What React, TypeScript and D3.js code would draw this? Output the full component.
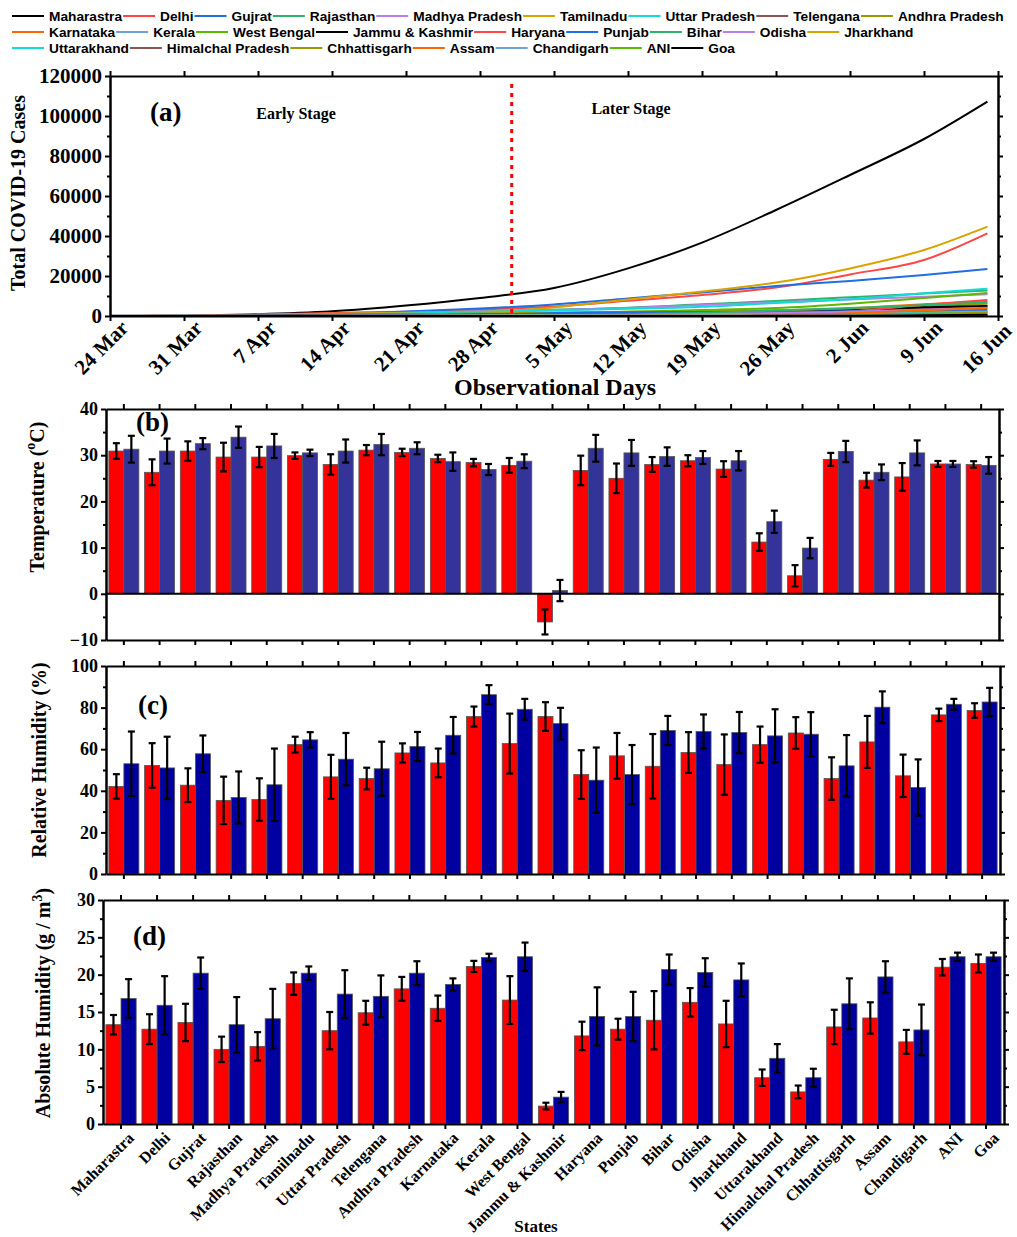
import React, { useEffect, useRef } from "react";
import * as d3 from "d3";

// states, in legend order and in bar order
const states = [
  "Maharastra", "Delhi", "Gujrat", "Rajasthan", "Madhya Pradesh", "Tamilnadu",
  "Uttar Pradesh", "Telengana", "Andhra Pradesh", "Karnataka", "Kerala",
  "West Bengal", "Jammu & Kashmir", "Haryana", "Punjab", "Bihar", "Odisha",
  "Jharkhand", "Uttarakhand", "Himalchal Pradesh", "Chhattisgarh", "Assam",
  "Chandigarh", "ANI", "Goa",
];
const lineColors = [
  "#000000", "#ff4545", "#1f6fe0", "#2db36b", "#b97fe8", "#d9a200",
  "#14d9d9", "#8c5555", "#9a9a00", "#ff6600", "#6fa3d9", "#5cb800",
  "#000000", "#ff4545", "#1f6fe0", "#2db36b", "#b97fe8", "#d9a200",
  "#14d9d9", "#8c5555", "#9a9a00", "#ff6600", "#6fa3d9", "#5cb800", "#000000",
];

// (a) cumulative cases, one value a week (days since 24 Mar)
const caseDays = [0, 7, 14, 21, 28, 35, 42, 49, 56, 63, 70, 77, 83];
const dateTicks = [0, 7, 14, 21, 28, 35, 42, 49, 56, 63, 70, 77, 84];
const dateLabels = ["24 Mar", "31 Mar", "7 Apr", "14 Apr", "21 Apr", "28 Apr", "5 May", "12 May", "19 May", "26 May", "2 Jun", "9 Jun", "16 Jun"];
const casesMaharastra = [107, 302, 868, 2334, 5218, 9000, 14000, 23800, 36700, 53000, 70500, 88500, 107200];
const casesDelhi = [30, 120, 576, 1561, 2156, 3314, 4700, 7600, 10500, 14200, 20800, 28000, 41300];
const casesGujrat = [30, 70, 165, 650, 2300, 3700, 5800, 8800, 11800, 15000, 17500, 20500, 23500];
const casesRajasthan = [32, 93, 328, 879, 1576, 2364, 3158, 4126, 5845, 7536, 9373, 11245, 12694];
const casesMadhya = [7, 66, 268, 730, 1552, 2368, 3049, 3986, 5465, 6859, 8283, 9638, 10935];
const casesTamilnadu = [15, 124, 690, 1173, 1596, 2058, 4300, 8300, 12200, 16700, 23800, 33000, 44700];
const casesUttar = [33, 103, 326, 657, 1294, 2053, 2880, 3573, 4605, 6548, 8361, 11335, 13615];
const casesTelengana = [36, 77, 404, 624, 928, 1004, 1096, 1326, 1634, 1920, 2891, 3742, 4974];
const casesAndhra = [8, 40, 304, 483, 757, 1259, 1717, 2090, 2532, 2886, 3571, 4708, 6163];
const casesKarnataka = [41, 101, 175, 258, 415, 523, 671, 925, 1397, 2283, 3796, 5921, 7213];
const casesKerala = [105, 241, 336, 379, 407, 485, 500, 524, 642, 1004, 1412, 2005, 2622];
const casesWestBengal = [9, 37, 91, 213, 423, 725, 1259, 2063, 2961, 4009, 6168, 8985, 11494];
const casesJammu = [4, 55, 116, 278, 380, 565, 726, 934, 1317, 1759, 2718, 4346, 5041];
const casesHaryana = [28, 43, 147, 199, 254, 296, 517, 780, 964, 1213, 2356, 5579, 8000];
const casesPunjab = [29, 41, 79, 176, 245, 375, 1451, 1914, 2002, 2106, 2342, 2719, 3267];
const casesBihar = [3, 15, 32, 66, 126, 366, 528, 831, 1498, 2737, 3945, 5459, 6810];
const casesOdisha = [2, 3, 42, 54, 82, 125, 169, 437, 876, 1438, 2104, 3140, 4163];
const casesJharkhand = [0, 1, 4, 24, 46, 103, 115, 172, 223, 426, 659, 1290, 1839];
const casesUttarakhand = [5, 7, 31, 37, 46, 54, 60, 68, 111, 401, 999, 1411, 1819];
const casesHimalchal = [3, 3, 13, 32, 39, 40, 42, 66, 110, 214, 340, 445, 553];
const casesChhattisgarh = [1, 9, 10, 33, 36, 38, 58, 59, 101, 291, 552, 1160, 1662];
const casesAssam = [0, 1, 27, 32, 35, 38, 43, 65, 107, 549, 1390, 2937, 4049];
const casesChandigarh = [7, 15, 18, 21, 26, 56, 102, 174, 200, 266, 294, 317, 345];
const casesANI = [1, 10, 11, 11, 15, 33, 33, 33, 33, 33, 33, 33, 41];
const casesGoa = [3, 5, 7, 7, 7, 7, 7, 7, 50, 67, 79, 359, 564];
const caseSeries = [
  casesMaharastra, casesDelhi, casesGujrat, casesRajasthan, casesMadhya, casesTamilnadu,
  casesUttar, casesTelengana, casesAndhra, casesKarnataka, casesKerala, casesWestBengal,
  casesJammu, casesHaryana, casesPunjab, casesBihar, casesOdisha, casesJharkhand,
  casesUttarakhand, casesHimalchal, casesChhattisgarh, casesAssam, casesChandigarh, casesANI, casesGoa,
];
const stageSplitDay = 38;

// (b) temperature, early (red) and later (blue) stage, mean and sd
const tempEarly = [30.9, 26.3, 30.9, 29.6, 29.6, 29.9, 28.0, 31.1, 30.6, 29.3, 28.4, 27.8, -6.1, 26.7, 25.0, 28.0, 28.8, 27.0, 11.2, 3.9, 29.1, 24.6, 25.3, 28.1, 28.0];
const tempEarlyErr = [1.7, 2.8, 2.1, 3.1, 2.2, 0.7, 2.2, 1.1, 0.8, 0.8, 0.8, 1.6, 2.7, 3.2, 3.2, 1.6, 1.2, 1.7, 1.9, 2.3, 1.4, 1.6, 3.0, 0.65, 0.7];
const tempLater = [31.3, 30.9, 32.5, 33.9, 32.0, 30.5, 30.9, 32.3, 31.5, 28.6, 26.9, 28.7, 0.7, 31.5, 30.5, 29.7, 29.5, 28.8, 15.6, 9.9, 30.8, 26.3, 30.5, 28.1, 27.8];
const tempLaterErr = [2.9, 2.7, 1.2, 2.3, 2.6, 0.7, 2.5, 2.3, 1.3, 2.0, 1.2, 1.5, 2.3, 2.9, 2.8, 2.0, 1.4, 2.1, 2.4, 2.2, 2.3, 1.7, 2.7, 0.65, 1.8];

// (c) relative humidity
const rhEarly = [42.1, 52.2, 42.7, 35.4, 35.8, 62.2, 46.7, 45.9, 58.2, 53.4, 75.7, 62.7, 75.7, 47.8, 56.8, 51.8, 58.4, 52.6, 62.2, 67.8, 45.9, 63.5, 47.2, 76.5, 78.6];
const rhEarlyErr = [5.9, 10.7, 8.1, 11.4, 10.2, 3.8, 10.6, 5.2, 4.6, 6.9, 4.8, 14.4, 6.9, 11.7, 11.0, 15.5, 9.8, 14.5, 8.7, 7.6, 10.2, 12.5, 10.2, 3.0, 3.5];
const rhLater = [53.0, 51.0, 57.8, 36.8, 42.9, 64.5, 55.2, 50.6, 61.3, 66.7, 86.2, 79.2, 72.3, 45.1, 47.8, 69.0, 68.5, 68.0, 66.4, 67.2, 52.0, 80.2, 41.6, 81.6, 82.7];
const rhLaterErr = [15.5, 15.0, 8.8, 12.5, 17.4, 3.7, 12.6, 13.0, 7.0, 8.8, 4.6, 5.0, 7.6, 15.7, 14.2, 7.0, 8.2, 9.9, 12.8, 10.6, 14.8, 7.6, 13.5, 2.6, 6.8];

// (d) absolute humidity
const ahEarly = [13.3, 12.7, 13.6, 10.0, 10.4, 18.8, 12.5, 14.9, 18.1, 15.5, 21.1, 16.6, 2.4, 11.8, 12.7, 13.9, 16.3, 13.4, 6.2, 4.3, 13.0, 14.2, 11.0, 21.0, 21.5];
const ahEarlyErr = [1.3, 2.0, 2.5, 1.7, 1.9, 1.5, 2.5, 1.6, 1.6, 1.7, 0.75, 3.2, 0.45, 1.9, 1.4, 3.9, 1.9, 3.1, 1.1, 0.85, 2.3, 2.1, 1.6, 1.1, 1.2];
const ahLater = [16.8, 15.9, 20.2, 13.3, 14.1, 20.2, 17.4, 17.1, 20.2, 18.7, 22.3, 22.4, 3.6, 14.4, 14.4, 20.7, 20.3, 19.3, 8.8, 6.2, 16.1, 19.7, 12.6, 22.4, 22.4];
const ahLaterErr = [2.6, 3.9, 2.1, 3.7, 4.0, 0.9, 3.2, 2.8, 1.6, 0.8, 0.5, 1.9, 0.7, 3.9, 3.3, 2.0, 1.9, 2.2, 1.9, 1.2, 3.4, 2.1, 3.4, 0.55, 0.55];

const SERIF = "'Liberation Serif', 'Times New Roman', serif";
const SANS = "'Liberation Sans', Arial, sans-serif";

type Sel = d3.Selection<SVGGElement, unknown, null, undefined>;

function styleAxis(g: Sel, fontSize: number) {
  g.select(".domain").attr("stroke", "#000").attr("stroke-width", 2);
  g.selectAll(".tick line").attr("stroke", "#000").attr("stroke-width", 2);
  g.selectAll(".tick text")
    .attr("font-family", SERIF)
    .attr("font-weight", "bold")
    .attr("font-size", fontSize)
    .attr("fill", "#000");
}

function drawBars(
  root: d3.Selection<SVGSVGElement, unknown, null, undefined>,
  opt: {
    left: number; right: number; top: number; bottom: number;
    domain: [number, number]; major: number[]; minor: number[];
    red: number[]; redErr: number[]; blue: number[]; blueErr: number[];
    blueColor: string; tag: string; tagX: number; tagY: number;
    showLabels: boolean; zeroLine: boolean;
  }
) {
  const x = d3.scaleBand().domain(states).range([opt.left, opt.right]).paddingInner(0.16).paddingOuter(0.08);
  const sub = d3.scaleBand().domain(["early", "later"]).range([0, x.bandwidth()]);
  const y = d3.scaleLinear().domain(opt.domain).range([opt.bottom, opt.top]);
  const g = root.append("g");

  const pairs = states.map((s, i) => ({
    s,
    vals: [
      { k: "early", v: opt.red[i], e: opt.redErr[i], c: "#ff0000" },
      { k: "later", v: opt.blue[i], e: opt.blueErr[i], c: opt.blueColor },
    ],
  }));
  const groups = g.selectAll("g.pair").data(pairs).join("g")
    .attr("transform", d => `translate(${x(d.s)},0)`);
  groups.selectAll("rect").data(d => d.vals).join("rect")
    .attr("x", d => sub(d.k)!)
    .attr("width", sub.bandwidth())
    .attr("y", d => y(Math.max(0, d.v)))
    .attr("height", d => Math.abs(y(d.v) - y(0)))
    .attr("fill", d => d.c)
    .attr("stroke", "#555")
    .attr("stroke-width", 0.8);
  const eb = groups.selectAll("g.err").data(d => d.vals).join("g")
    .attr("transform", d => `translate(${sub(d.k)! + sub.bandwidth() / 2},0)`);
  eb.append("line").attr("y1", d => y(d.v - d.e)).attr("y2", d => y(d.v + d.e))
    .attr("stroke", "#000").attr("stroke-width", 2.2);
  eb.append("line").attr("x1", -3.5).attr("x2", 3.5).attr("y1", d => y(d.v + d.e)).attr("y2", d => y(d.v + d.e))
    .attr("stroke", "#000").attr("stroke-width", 2.2);
  eb.append("line").attr("x1", -3.5).attr("x2", 3.5).attr("y1", d => y(d.v - d.e)).attr("y2", d => y(d.v - d.e))
    .attr("stroke", "#000").attr("stroke-width", 2.2);

  if (opt.zeroLine) {
    g.append("line").attr("x1", opt.left).attr("x2", opt.right).attr("y1", y(0)).attr("y2", y(0))
      .attr("stroke", "#000").attr("stroke-width", 2);
  }

  // frame and ticks
  const leftAx = g.append("g").attr("transform", `translate(${opt.left},0)`)
    .call(d3.axisLeft(y).tickValues(opt.major).tickSize(5).tickSizeOuter(0).tickPadding(3));
  styleAxis(leftAx, 18);
  const leftMinor = g.append("g").attr("transform", `translate(${opt.left},0)`)
    .call(d3.axisLeft(y).tickValues(opt.minor).tickSize(3).tickFormat(() => "").tickSizeOuter(0));
  styleAxis(leftMinor, 18);
  const rightAx = g.append("g").attr("transform", `translate(${opt.right},0)`)
    .call(d3.axisRight(y).tickValues(opt.major).tickSize(5).tickFormat(() => "").tickSizeOuter(0));
  styleAxis(rightAx, 18);
  const rightMinor = g.append("g").attr("transform", `translate(${opt.right},0)`)
    .call(d3.axisRight(y).tickValues(opt.minor).tickSize(3).tickFormat(() => "").tickSizeOuter(0));
  styleAxis(rightMinor, 18);
  const topAx = g.append("g").attr("transform", `translate(0,${opt.top})`)
    .call(d3.axisTop(x).tickSize(5).tickFormat(() => "").tickSizeOuter(0));
  styleAxis(topAx, 18);
  const botAx = g.append("g").attr("transform", `translate(0,${opt.bottom})`)
    .call(d3.axisBottom(x).tickSize(5).tickSizeOuter(0));
  styleAxis(botAx, 16);
  if (opt.showLabels) {
    botAx.selectAll(".tick text")
      .attr("text-anchor", "end")
      .attr("y", 0)
      .attr("dy", "0.35em")
      .attr("transform", "translate(10,11) rotate(-45)");
  } else {
    botAx.selectAll(".tick text").remove();
  }

  g.append("text").attr("x", opt.tagX).attr("y", opt.tagY)
    .attr("font-family", SERIF).attr("font-weight", "bold").attr("font-size", 27)
    .text(opt.tag);
}

export default function App() {
  const ref = useRef<SVGSVGElement>(null);

  useEffect(() => {
    const svg = d3.select(ref.current!);
    svg.selectAll("*").remove();

    // legend, flowing in three rows
    const legendRows = [states.slice(0, 9), states.slice(9, 18), states.slice(18)];
    const legend = svg.append("g");
    let idx = 0;
    legendRows.forEach((row, r) => {
      let lx = 12;
      const ly = 16 + r * 16;
      row.forEach(name => {
        const c = lineColors[idx++];
        legend.append("line").attr("x1", lx).attr("x2", lx + 32).attr("y1", ly).attr("y2", ly)
          .attr("stroke", c).attr("stroke-width", 2);
        const t = legend.append("text").attr("x", lx + 37).attr("y", ly + 5)
          .attr("font-family", SANS).attr("font-weight", "bold").attr("font-size", 13.7)
          .text(name);
        const w = (t.node() as SVGTextElement).getComputedTextLength();
        lx = lx + 37 + w + 1;
      });
    });

    // (a) cumulative cases
    const aL = 110, aR = 998, aT = 76, aB = 316;
    const x = d3.scaleLinear().domain([0, 84]).range([aL, aR]);
    const y = d3.scaleLinear().domain([0, 120000]).range([aB, aT]);
    const ga = svg.append("g");
    const line = d3.line<number>().x((_, i) => x(caseDays[i])).y(d => y(d)).curve(d3.curveMonotoneX);
    caseSeries.forEach((s, i) => {
      ga.append("path").attr("d", line(s)).attr("fill", "none")
        .attr("stroke", lineColors[i]).attr("stroke-width", 2);
    });
    ga.append("line").attr("x1", x(stageSplitDay)).attr("x2", x(stageSplitDay)).attr("y1", aT + 8).attr("y2", aB)
      .attr("stroke", "#ff0000").attr("stroke-width", 3).attr("stroke-dasharray", "4,5");

    const yMajor = d3.range(0, 120001, 20000);
    const yMinor = d3.range(10000, 120000, 20000);
    const la = ga.append("g").attr("transform", `translate(${aL},0)`)
      .call(d3.axisLeft(y).tickValues(yMajor).tickSize(5).tickSizeOuter(0).tickPadding(3).tickFormat(d3.format("d")));
    styleAxis(la, 21);
    const lam = ga.append("g").attr("transform", `translate(${aL},0)`)
      .call(d3.axisLeft(y).tickValues(yMinor).tickSize(3).tickFormat(() => "").tickSizeOuter(0));
    styleAxis(lam, 21);
    const ra = ga.append("g").attr("transform", `translate(${aR},0)`)
      .call(d3.axisRight(y).tickValues(yMajor).tickSize(5).tickFormat(() => "").tickSizeOuter(0));
    styleAxis(ra, 21);
    const ram = ga.append("g").attr("transform", `translate(${aR},0)`)
      .call(d3.axisRight(y).tickValues(yMinor).tickSize(3).tickFormat(() => "").tickSizeOuter(0));
    styleAxis(ram, 21);
    const ta = ga.append("g").attr("transform", `translate(0,${aT})`)
      .call(d3.axisTop(x).tickValues(dateTicks).tickSize(5).tickFormat(() => "").tickSizeOuter(0));
    styleAxis(ta, 21);
    const ba = ga.append("g").attr("transform", `translate(0,${aB})`)
      .call(d3.axisBottom(x).tickValues(dateTicks).tickSize(5).tickSizeOuter(0)
        .tickFormat((d, i) => dateLabels[i]));
    styleAxis(ba, 21);
    ba.selectAll(".tick text")
      .attr("text-anchor", "end")
      .attr("y", 0)
      .attr("dy", "0.35em")
      .attr("transform", (d, i) => (i === dateTicks.length - 1 ? "translate(9,11) rotate(-45)" : "translate(14,8) rotate(-45)"));

    ga.append("text").attr("x", 150).attr("y", 121)
      .attr("font-family", SERIF).attr("font-weight", "bold").attr("font-size", 27).text("(a)");
    ga.append("text").attr("x", 296).attr("y", 119).attr("text-anchor", "middle")
      .attr("font-family", SERIF).attr("font-weight", "bold").attr("font-size", 16).text("Early Stage");
    ga.append("text").attr("x", 631).attr("y", 114).attr("text-anchor", "middle")
      .attr("font-family", SERIF).attr("font-weight", "bold").attr("font-size", 16).text("Later Stage");
    ga.append("text").attr("x", 555).attr("y", 395).attr("text-anchor", "middle")
      .attr("font-family", SERIF).attr("font-weight", "bold").attr("font-size", 24).text("Observational Days");
    ga.append("text").attr("transform", "translate(25,193) rotate(-90)").attr("text-anchor", "middle")
      .attr("font-family", SERIF).attr("font-weight", "bold").attr("font-size", 20).text("Total COVID-19 Cases");

    // (b) temperature
    drawBars(svg, {
      left: 106, right: 999, top: 409, bottom: 640,
      domain: [-10, 40], major: [-10, 0, 10, 20, 30, 40], minor: [-5, 5, 15, 25, 35],
      red: tempEarly, redErr: tempEarlyErr, blue: tempLater, blueErr: tempLaterErr,
      blueColor: "#333399", tag: "(b)", tagX: 136, tagY: 431, showLabels: false, zeroLine: true,
    });
    const tb = svg.append("text").attr("transform", "translate(44,497) rotate(-90)").attr("text-anchor", "middle")
      .attr("font-family", SERIF).attr("font-weight", "bold").attr("font-size", 20);
    tb.append("tspan").text("Temperature (");
    tb.append("tspan").attr("font-size", 14).attr("dy", -9).text("o");
    tb.append("tspan").attr("dy", 9).text("C)");

    // (c) relative humidity
    drawBars(svg, {
      left: 106, right: 1000, top: 666, bottom: 874,
      domain: [0, 100], major: [0, 20, 40, 60, 80, 100], minor: [10, 30, 50, 70, 90],
      red: rhEarly, redErr: rhEarlyErr, blue: rhLater, blueErr: rhLaterErr,
      blueColor: "#0000a0", tag: "(c)", tagX: 138, tagY: 714, showLabels: false, zeroLine: false,
    });
    svg.append("text").attr("transform", "translate(46,760) rotate(-90)").attr("text-anchor", "middle")
      .attr("font-family", SERIF).attr("font-weight", "bold").attr("font-size", 20).text("Relative Humidity (%)");

    // (d) absolute humidity
    drawBars(svg, {
      left: 103, right: 1004, top: 900, bottom: 1124,
      domain: [0, 30], major: [0, 5, 10, 15, 20, 25, 30], minor: [2.5, 7.5, 12.5, 17.5, 22.5, 27.5],
      red: ahEarly, redErr: ahEarlyErr, blue: ahLater, blueErr: ahLaterErr,
      blueColor: "#0000a0", tag: "(d)", tagX: 133, tagY: 945, showLabels: true, zeroLine: false,
    });
    const td = svg.append("text").attr("transform", "translate(50,1003) rotate(-90)").attr("text-anchor", "middle")
      .attr("font-family", SERIF).attr("font-weight", "bold").attr("font-size", 20);
    td.append("tspan").text("Absolute Humidity (g / m");
    td.append("tspan").attr("font-size", 14).attr("dy", -8).text("3");
    td.append("tspan").attr("dy", 8).text(")");
    svg.append("text").attr("x", 536).attr("y", 1232).attr("text-anchor", "middle")
      .attr("font-family", SERIF).attr("font-weight", "bold").attr("font-size", 17).text("States");
  }, []);

  return (
    <svg ref={ref} width={1017} height={1237}
      style={{ position: "absolute", left: 0, top: 0, background: "#fff" }} />
  );
}
